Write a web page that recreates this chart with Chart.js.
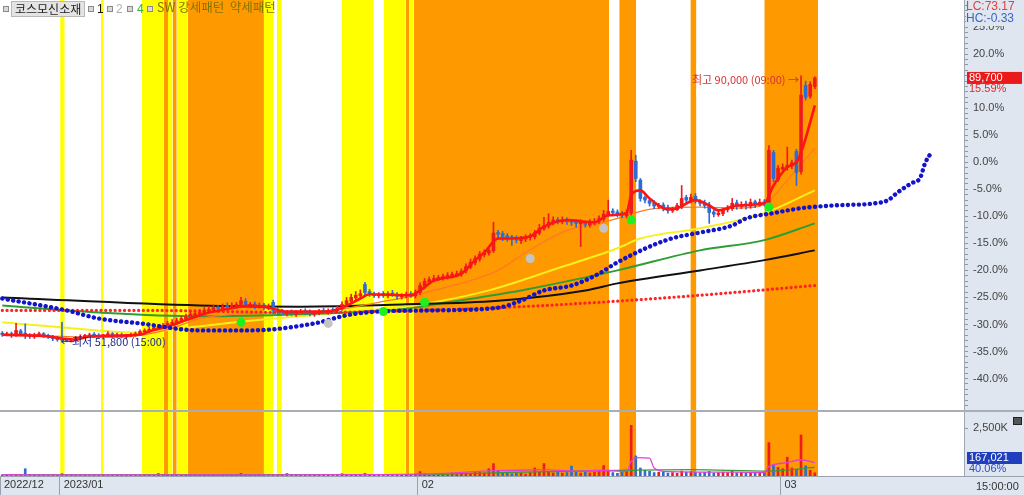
<!DOCTYPE html>
<html>
<head>
<meta charset="utf-8">
<script src="https://cdn.jsdelivr.net/npm/chart.js@4.4.1/dist/chart.umd.min.js"></script>
<style>
  html, body { margin: 0; padding: 0; background: #dfe6f0; }
  #wrap { position: relative; width: 1024px; height: 495px; overflow: hidden; }
  #c { position: absolute; left: 0; top: 0; }
  .ov { position: absolute; white-space: nowrap; font: 11px "Liberation Sans", Arial, sans-serif; line-height: 12px; }
  .kr { font-family: "Noto Sans CJK KR", "Noto Sans", sans-serif; }
  .sq { position: absolute; width: 4px; height: 4px; background: #d8d8d8; border: 1px solid #8a8a8a; top: 6px; }
</style>
</head>
<body>
<div id="wrap">
  <canvas id="c" width="1024" height="495"></canvas>
  <div class="sq" style="left:3px"></div>
  <div class="ov kr" style="left:11px;top:1px;padding:1px 3px;background:#e4e4e4;border:1px solid #b8b8b8;color:#222;font-size:12px">코스모신소재</div>
  <div class="sq" style="left:88px"></div>
  <div class="ov" style="left:97px;top:3px;color:#111;font-size:12px">1</div>
  <div class="sq" style="left:107px"></div>
  <div class="ov" style="left:116px;top:3px;color:#b0b0b0;font-size:12px">2</div>
  <div class="sq" style="left:127px"></div>
  <div class="ov" style="left:137px;top:3px;color:#2fb84a;font-size:12px">4</div>
  <div class="sq" style="left:147px"></div>
  <div class="ov kr" style="left:157px;top:1px;color:#857400;font-size:12.5px">SW 강세패턴&nbsp;&nbsp;약세패턴</div>
  <div class="ov" style="left:966px;top:0px;color:#e04040;font-size:12px">LC:73.17</div>
  <div class="ov" style="left:966px;top:12px;color:#3a64c8;background:#dfe6f0;padding-bottom:2px;font-size:12px">HC:-0.33</div>
  <div class="ov" style="left:976px;top:480px;color:#333">15:00:00</div>
  <div style="position:absolute;left:1013px;top:417px;width:7px;height:6px;background:#555;border:1px solid #222"></div>
</div>
<script>
// values in % against 77,600 (the right axis is a percent axis)
const basePrice = 77600;
const highTime = '09:00';
const lowTime = '15:00';

const closes = [
-31.9,-31.7,-32.0,-31.1,-31.7,-31.9,-32.2,-31.9,-31.7,-32.0,
-32.2,-32.6,-32.8,-32.8,-33.1,-33.0,-32.6,-32.2,-32.0,-31.9,
-32.0,-32.2,-31.9,-31.7,-32.0,-31.9,-32.2,-32.0,-31.9,-31.7,
-31.3,-31.1,-30.9,-30.6,-30.4,-30.2,-29.8,-29.6,-29.3,-28.9,
-28.5,-28.1,-28.0,-27.8,-27.4,-27.2,-26.9,-27.0,-26.7,-26.7,
-26.5,-26.3,-25.6,-26.5,-26.3,-26.7,-26.5,-26.9,-26.7,-27.4,
-27.6,-27.8,-27.8,-28.0,-27.8,-27.6,-27.8,-28.0,-27.8,-27.6,
-27.6,-27.4,-27.4,-27.0,-26.3,-25.6,-25.0,-24.6,-24.3,-24.1,
-24.4,-24.6,-24.4,-24.6,-24.3,-24.4,-24.8,-24.6,-24.4,-24.6,
-24.1,-22.8,-22.0,-21.7,-21.5,-21.3,-21.1,-20.9,-20.7,-20.6,
-20.2,-19.3,-18.5,-17.8,-17.0,-16.7,-16.3,-13.1,-13.3,-13.7,
-13.9,-14.1,-14.4,-14.1,-13.9,-13.7,-13.0,-12.2,-11.7,-11.1,
-10.7,-10.9,-10.7,-10.9,-11.1,-11.3,-11.1,-11.5,-11.1,-10.9,
-10.4,-9.6,-9.1,-9.3,-9.6,-9.8,-9.3,0.4,-3.0,-6.7,
-7.0,-7.6,-8.1,-8.0,-8.5,-8.9,-8.7,-8.0,-6.7,-7.0,
-6.5,-7.2,-7.6,-8.0,-9.3,-9.6,-9.4,-8.9,-8.5,-7.6,
-8.1,-7.8,-8.0,-7.4,-7.8,-7.4,-7.6,2.2,-3.0,-1.1,
-0.9,-0.6,0.0,-1.9,12.4,12.0,14.4,15.59
];
const opens = [
-31.6,-31.9,-31.7,-31.9,-31.2,-31.6,-31.9,-32.3,-31.9,-31.7,
-32.0,-32.2,-32.5,-32.7,-32.8,-33.2,-33.0,-32.6,-32.3,-32.0,
-31.8,-32.0,-32.2,-31.9,-31.7,-32.1,-31.9,-32.3,-32.0,-31.9,
-31.7,-31.4,-31.2,-30.9,-30.7,-30.5,-30.2,-29.9,-29.7,-29.3,
-29.0,-28.6,-28.3,-28.1,-27.9,-27.5,-27.3,-26.8,-27.1,-26.5,
-26.8,-26.6,-26.3,-25.7,-26.6,-26.2,-26.8,-26.4,-27.0,-25.9,
-27.4,-27.5,-28.0,-27.7,-28.1,-27.8,-27.5,-27.7,-28.1,-27.9,
-27.4,-27.7,-27.3,-27.5,-27.1,-26.4,-25.7,-25.1,-24.7,-22.6,
-23.9,-24.5,-24.7,-24.3,-24.7,-24.2,-24.5,-24.9,-24.7,-24.3,
-24.7,-24.1,-22.9,-22.2,-21.6,-21.7,-21.4,-21.2,-21.0,-20.8,
-20.7,-20.1,-19.4,-18.6,-17.9,-17.1,-16.8,-16.4,-13.0,-13.2,
-13.6,-13.8,-14.0,-14.5,-14.2,-13.8,-13.8,-13.1,-12.3,-11.8,
-11.2,-10.6,-11.0,-10.6,-10.8,-11.0,-11.4,-11.0,-11.6,-11.2,
-10.9,-10.5,-9.7,-9.0,-9.2,-9.5,-9.9,-9.4,0.2,-3.3,
-6.5,-7.1,-7.5,-8.2,-7.9,-8.4,-9.0,-8.8,-8.2,-6.5,
-7.1,-6.3,-7.3,-7.5,-7.9,-9.2,-9.7,-9.5,-8.8,-8.6,
-7.5,-8.2,-7.7,-8.1,-7.3,-7.9,-7.3,-7.7,1.8,-3.2,
-1.3,-1.0,-0.7,2.0,-1.7,14.2,12.2,14.0
];
const highs = [
-31.3,-31.4,-31.4,-29.8,-30.9,-29.9,-31.7,-31.6,-31.4,-31.5,
-31.8,-32.0,-32.2,-29.6,-32.5,-32.7,-32.3,-31.9,-31.8,-31.6,
-31.5,-31.7,-31.8,-31.3,-31.5,-31.6,-31.6,-31.8,-31.6,-31.4,
-31.0,-30.8,-30.5,-30.2,-30.0,-29.8,-29.4,-29.1,-28.8,-28.5,
-28.1,-27.6,-27.6,-27.3,-26.9,-26.7,-26.4,-26.5,-26.2,-26.0,
-26.0,-25.9,-25.0,-25.2,-25.9,-25.8,-26.0,-26.1,-26.2,-25.5,
-27.0,-27.2,-27.4,-27.3,-27.4,-27.2,-27.1,-27.3,-27.5,-27.2,
-27.0,-27.1,-26.9,-26.6,-25.8,-25.0,-24.4,-23.9,-23.6,-22.2,
-23.5,-24.0,-24.1,-23.9,-23.9,-23.7,-24.1,-24.3,-24.0,-23.9,
-23.6,-22.3,-21.5,-21.2,-20.9,-20.9,-20.7,-20.4,-20.3,-20.1,
-19.7,-18.8,-17.9,-17.3,-16.5,-16.2,-15.6,-11.1,-12.6,-12.8,
-13.2,-13.5,-13.6,-13.7,-13.4,-13.2,-12.6,-11.5,-10.2,-9.5,
-10.1,-10.2,-10.1,-10.3,-10.6,-10.7,-10.6,-10.9,-10.6,-10.4,
-9.9,-8.9,-7.0,-8.6,-8.8,-9.1,-8.8,2.2,1.3,-3.0,
-6.2,-6.8,-7.1,-7.6,-7.5,-7.9,-8.3,-7.6,-4.3,-6.1,
-5.9,-5.8,-6.9,-7.0,-7.4,-8.8,-9.0,-8.5,-8.0,-6.7,
-7.0,-7.3,-7.2,-6.8,-7.0,-6.8,-6.9,3.1,2.2,-0.6,
-0.3,2.8,0.4,2.4,16.0,15.0,14.9,15.8
];
const lows = [
-32.2,-32.1,-32.4,-32.2,-32.0,-32.6,-32.6,-32.6,-32.2,-32.4,
-32.6,-33.0,-33.1,-33.25,-33.2,-33.22,-33.2,-32.8,-32.5,-32.3,
-32.4,-32.6,-32.5,-32.2,-32.4,-32.4,-32.5,-32.6,-32.3,-32.2,
-31.9,-31.6,-31.4,-31.1,-30.9,-30.7,-30.5,-30.2,-30.0,-29.6,
-29.3,-28.9,-28.6,-28.4,-28.2,-27.8,-27.6,-27.4,-27.4,-27.1,
-27.1,-27.0,-26.7,-26.9,-26.9,-27.1,-27.0,-27.3,-27.3,-28.0,
-28.0,-28.2,-28.4,-28.3,-28.5,-28.1,-28.2,-28.4,-28.5,-28.2,
-28.0,-28.1,-27.7,-27.8,-27.4,-26.7,-26.0,-25.5,-25.0,-24.5,
-24.8,-25.0,-25.1,-25.0,-25.1,-24.8,-25.3,-25.3,-25.1,-25.0,
-25.1,-24.5,-23.3,-22.6,-22.1,-21.9,-21.8,-21.6,-21.4,-21.2,
-21.1,-20.5,-19.7,-19.0,-18.3,-17.5,-17.2,-16.7,-14.0,-14.5,
-14.6,-15.4,-14.9,-15.0,-14.7,-14.4,-14.2,-13.4,-12.6,-12.2,
-11.6,-11.4,-11.4,-11.5,-11.7,-12.0,-15.6,-12.0,-12.0,-11.6,
-11.3,-10.9,-10.0,-9.7,-10.1,-10.3,-10.3,-9.8,-3.6,-7.2,
-7.5,-8.1,-8.6,-8.6,-9.0,-9.4,-9.3,-8.9,-8.6,-7.6,
-7.5,-7.6,-8.1,-8.5,-11.3,-10.1,-10.0,-9.9,-9.2,-8.9,
-8.7,-8.6,-8.7,-8.5,-8.4,-8.1,-8.1,-8.1,-3.6,-3.6,
-1.5,-1.5,-1.2,-4.3,-2.2,11.5,11.8,13.6
];
// volume in thousands of shares
const volumes = [
60,40,50,80,50,380,70,40,50,60,40,50,60,
120,60,50,40,50,40,30,40,50,40,30,40,50,40,30,40,50,
40,60,50,40,130,60,70,50,60,50,
50,40,60,40,50,40,60,50,80,50,
60,50,140,50,60,40,50,60,40,50,
40,50,130,40,50,40,60,50,40,50,
60,50,40,60,120,80,60,50,90,140,
70,60,50,60,50,40,60,50,40,60,
100,230,120,90,80,70,100,80,150,90,
120,150,110,240,200,160,380,650,300,180,
140,120,160,150,100,180,420,200,650,250,
160,200,150,180,520,240,150,220,160,200,
300,550,260,180,140,250,300,2650,1050,420,
300,250,180,200,220,150,180,140,260,200,
230,180,160,190,240,150,170,200,180,250,
160,190,150,170,140,160,210,1750,600,450,
380,980,420,350,2150,530,300,167.021
];
const volumeRatio = '40.06%';

// moving averages, read at bar positions [bar, %]
const ma5 = [[0,-31.9],[10,-32.2],[13,-32.6],[16,-32.8],[19,-32.2],[30,-31.9],[32,-31.3],[36,-30.4],[41,-28.9],[45,-27.8],[50,-27.0],[54,-26.5],[58,-26.9],[62,-27.6],[71,-27.6],[74,-26.9],[78,-25.2],[80,-24.4],[89,-24.6],[91,-23.7],[94,-21.9],[100,-20.6],[103,-18.1],[105,-16.7],[108,-14.1],[111,-14.1],[115,-13.7],[118,-11.9],[123,-10.7],[129,-11.1],[132,-9.8],[136,-9.4],[137,-6.1],[139,-5.2],[141,-6.7],[145,-8.7],[147,-8.5],[151,-7.0],[154,-8.0],[156,-8.9],[160,-8.0],[166,-7.6],[168,-4.3],[171,-0.9],[173,0.0],[174,1.8],[175,4.4],[176,7.4],[177,10.5]];
const ma20 = [[0,-31.9],[13,-32.2],[21,-32.4],[30,-32.0],[37,-30.7],[43,-28.9],[52,-28.0],[60,-27.8],[69,-27.6],[75,-27.0],[82,-25.9],[89,-24.8],[94,-23.7],[102,-21.9],[108,-20.0],[114,-16.7],[123,-12.6],[130,-11.3],[134,-10.4],[139,-9.1],[143,-8.5],[152,-8.3],[160,-8.5],[166,-7.8],[171,-3.3],[177,2.6]];
const ma60 = [[0,-29.6],[15,-30.7],[30,-31.5],[39,-30.7],[54,-29.3],[71,-28.0],[91,-26.3],[106,-23.7],[121,-19.6],[134,-15.9],[139,-14.1],[152,-12.2],[166,-9.4],[177,-5.2]];
const ma120 = [[0,-26.5],[21,-27.8],[43,-28.5],[65,-28.1],[87,-27.2],[97,-25.9],[113,-23.7],[134,-20.0],[152,-16.3],[166,-14.4],[177,-11.3]];
const ma240 = [[0,-25.0],[43,-26.5],[65,-26.7],[87,-26.3],[108,-25.6],[127,-23.7],[134,-22.4],[152,-20.0],[166,-18.1],[177,-16.3]];
const redDots = [[0,-27.4],[32,-27.4],[65,-27.8],[91,-27.4],[108,-26.9],[130,-25.9],[152,-24.6],[177,-22.8]];
const blueDots = [[0,-25.2],[14,-27.4],[21,-28.9],[30,-29.8],[43,-31.1],[54,-31.1],[68,-29.8],[75,-28.3],[82,-27.6],[94,-27.4],[108,-26.9],[113,-25.6],[118,-23.7],[124,-22.8],[130,-20.6],[134,-18.5],[145,-14.3],[152,-13.0],[159,-11.7],[162,-10.4],[168,-9.4],[174,-8.5],[181,-8.0],[190,-7.6],[193,-7.0],[195,-5.6],[198,-3.9],[200,-2.8],[201,-0.2],[202,1.3]];
const volMa5 = [[0,70],[20,55],[50,60],[80,70],[95,120],[107,280],[112,300],[118,330],[125,260],[131,300],[136,240],[137,760],[138,960],[141,930],[142,420],[145,230],[160,200],[166,180],[167,490],[171,700],[174,850],[177,700]];
const volMa20 = [[0,60],[90,75],[110,190],[137,300],[150,330],[167,260],[177,450]];

const buySignals = [[52,-29.6],[83,-27.6],[92,-25.9],[137,-10.7],[167,-8.3]];
const graySignals = [[71,-29.8],[115,-17.8],[131,-12.2]];

// pattern bands [from, to] in bar units
const yellowBands = [[12.6,13.6],[21.5,22.1],[30.4,35.2],[36.1,37.1],[38.0,40.4],[57.0,59.1],[59.8,60.9],[73.9,80.9],[83.1,87.9],[88.7,89.6]];
const orangeBands = [[35.2,36.1],[37.1,38.0],[40.4,57.0],[87.9,88.7],[89.6,132.2],[134.4,138.1],[149.9,151.2],[166.0,177.7]];

const dateTicks = [-0.5, 12.5, 90.5, 169.5];
const dateLabels = ['2022/12', '2023/01', '02', '03'];

const PMIN = -46, PMAX = 30, VMAX = 3400;
const UP = '#f01c1c', DOWN = '#2f6bd0';

function pts(k) { return k.map(p => ({x: p[0], y: p[1]})); }
function won(p) { return (Math.round(basePrice * (1 + p / 100) / 100) * 100).toLocaleString('en-US'); }

const dirColor = closes.map((c, i) => c >= opens[i] ? UP : DOWN);

function bandSets(list, color) {
  const out = [];
  list.forEach(b => {
    out.push({type: 'line', yAxisID: 'y', data: [{x: b[0], y: PMAX}, {x: b[1], y: PMAX}],
      fill: 'start', backgroundColor: color, borderColor: 'rgba(0,0,0,0)', borderWidth: 0, pointRadius: 0, order: 30});
    out.push({type: 'line', yAxisID: 'y2', data: [{x: b[0], y: VMAX}, {x: b[1], y: VMAX}],
      fill: 'start', backgroundColor: color, borderColor: 'rgba(0,0,0,0)', borderWidth: 0, pointRadius: 0, order: 30});
  });
  return out;
}

function maLine(k, color, width, axis, order) {
  return {type: 'line', yAxisID: axis || 'y', data: pts(k), borderColor: color, borderWidth: width,
    pointRadius: 0, fill: false, cubicInterpolationMode: 'monotone', order: order || 10};
}

function dotLine(k, color, size, gap, order) {
  return {type: 'line', yAxisID: 'y', data: pts(k), borderColor: color, borderWidth: size,
    borderDash: [0.1, gap], borderCapStyle: 'round', pointRadius: 0, fill: false,
    cubicInterpolationMode: 'monotone', order: order};
}

const datasets = [].concat(
  bandSets(yellowBands, '#ffff00'),
  bandSets(orangeBands, '#ff9900'),
  [
    maLine(ma240, '#111111', 2, 'y', 12),
    maLine(ma120, '#2e9e34', 2, 'y', 12),
    maLine(ma60, '#f7f01a', 2, 'y', 12),
    maLine(ma20, '#ff7a26', 1.3, 'y', 11),
    dotLine(redDots, '#ff2424', 3.2, 4.6, 9),
    {type: 'bar', yAxisID: 'y', grouped: false, barThickness: 1, order: 8,
      data: closes.map((c, i) => ({x: i, y: [lows[i], highs[i]]})), backgroundColor: dirColor},
    {type: 'bar', yAxisID: 'y', grouped: false, barThickness: 3, minBarLength: 1, order: 7,
      data: closes.map((c, i) => ({x: i, y: [opens[i], c]})), backgroundColor: dirColor},
    maLine(ma5, '#ff1414', 2.6, 'y', 6),
    dotLine(blueDots, '#1414c8', 4.4, 5.4, 4),
    {type: 'bar', yAxisID: 'y2', grouped: false, barThickness: 2, order: 8,
      data: volumes.map((v, i) => ({x: i, y: v})), backgroundColor: dirColor},
    maLine(volMa20, '#3a9a3a', 1.3, 'y2', 6),
    maLine(volMa5, '#e040d8', 1.3, 'y2', 5),
    {type: 'line', yAxisID: 'y', showLine: false, data: pts(buySignals), pointRadius: 4.5,
      pointBackgroundColor: '#1ef01e', pointBorderWidth: 0, order: 1},
    {type: 'line', yAxisID: 'y', showLine: false, data: pts(graySignals), pointRadius: 4.5,
      pointBackgroundColor: '#c4c4c4', pointBorderWidth: 0, order: 1}
  ]
);

const panels = {
  id: 'panels',
  beforeDraw(chart) {
    const {ctx, chartArea: a} = chart;
    ctx.save();
    ctx.fillStyle = '#dfe6f0';
    ctx.fillRect(0, 0, chart.width, chart.height);
    ctx.fillStyle = '#ffffff';
    ctx.fillRect(a.left, a.top, a.right - a.left, a.bottom - a.top);
    ctx.restore();
  },
  afterDraw(chart) {
    const {ctx, chartArea: a, scales} = chart;
    const x = scales.x, y = scales.y, y2 = scales.y2;
    ctx.save();
    ctx.strokeStyle = '#a9adb4';
    ctx.lineWidth = 2;
    ctx.beginPath();
    ctx.moveTo(0, y2.top); ctx.lineTo(chart.width, y2.top);
    ctx.stroke();
    ctx.lineWidth = 1;
    ctx.strokeStyle = '#9aa2ae';
    ctx.beginPath();
    ctx.moveTo(0, a.bottom + 0.5); ctx.lineTo(chart.width, a.bottom + 0.5);
    ctx.stroke();

    // last price box
    const last = closes.length - 1;
    const py = y.getPixelForValue(closes[last]);
    ctx.font = '11px "Liberation Sans", Arial, sans-serif';
    ctx.textBaseline = 'middle';
    ctx.textAlign = 'left';
    ctx.fillStyle = '#ea1a1a';
    ctx.fillRect(a.right + 3, py - 6, 55, 12);
    ctx.fillStyle = '#ffffff';
    ctx.fillText(won(closes[last]), a.right + 5, py);
    ctx.fillStyle = '#e02828';
    ctx.fillText(closes[last].toFixed(2) + '%', a.right + 5, py + 11);

    // last volume box
    const vy = y2.bottom - 18;
    ctx.fillStyle = '#1f3fbf';
    ctx.fillRect(a.right + 3, vy - 6, 55, 12);
    ctx.fillStyle = '#ffffff';
    ctx.fillText(Math.round(volumes[last] * 1000).toLocaleString('en-US'), a.right + 5, vy);
    ctx.fillStyle = '#2a4ad0';
    ctx.fillText(volumeRatio, a.right + 5, vy + 11);

    // highest / lowest marks
    let iHi = 0, iLo = 0;
    highs.forEach((h, i) => { if (h > highs[iHi]) iHi = i; });
    lows.forEach((l, i) => { if (l < lows[iLo]) iLo = i; });
    ctx.font = '11px "Noto Sans CJK KR", "Liberation Sans", sans-serif';
    ctx.textAlign = 'right';
    ctx.fillStyle = '#d83030';
    ctx.fillText('최고 ' + won(highs[iHi]) + ' (' + highTime + ') →', x.getPixelForValue(iHi) - 2, y.getPixelForValue(highs[iHi]) + 4);
    ctx.textAlign = 'left';
    ctx.fillStyle = '#1a2a8c';
    ctx.fillText('←최저 ' + won(lows[iLo]) + ' (' + lowTime + ')', x.getPixelForValue(iLo) - 1, y.getPixelForValue(lows[iLo]));
    ctx.restore();
  }
};

function noPadV(s) { s.paddingTop = 0; s.paddingBottom = 0; }

new Chart(document.getElementById('c'), {
  type: 'bar',
  data: {datasets: datasets},
  plugins: [panels],
  options: {
    responsive: false,
    animation: false,
    devicePixelRatio: 1,
    layout: {padding: 0, autoPadding: false},
    font: {family: '"Liberation Sans", Arial, sans-serif', size: 11},
    plugins: {legend: {display: false}, tooltip: {enabled: false}},
    scales: {
      x: {
        type: 'linear', min: -0.5, max: 209.5, offset: false,
        grid: {drawOnChartArea: false, offset: false, tickLength: 19, tickColor: '#9aa2ae'},
        border: {display: true, color: '#9aa2ae'},
        afterBuildTicks: s => { s.ticks = dateTicks.map(v => ({value: v})); },
        afterFit: s => { s.height = 19; s.paddingLeft = 0; s.paddingRight = 0; },
        ticks: {
          autoSkip: false, maxRotation: 0, align: 'start', labelOffset: 4, padding: -17,
          color: '#333', font: {size: 11},
          callback: (v, i) => dateLabels[i]
        }
      },
      y: {
        type: 'linear', position: 'right', stack: 'panes', stackWeight: 411,
        min: PMIN, max: PMAX,
        grid: {drawOnChartArea: false, tickLength: 4, tickColor: '#8c96a6'},
        border: {display: true, color: '#a0a8b4'},
        afterBuildTicks: s => {
          const t = [];
          for (let v = PMIN + 1; v < PMAX; v++) t.push({value: v});
          s.ticks = t;
        },
        afterFit: s => { s.width = 60; noPadV(s); },
        ticks: {
          autoSkip: false, padding: 5, color: '#444', font: {size: 11},
          callback: v => (v % 5 === 0 && v >= -40 && v <= 25) ? v.toFixed(1) + '%' : ''
        }
      },
      y2: {
        type: 'linear', position: 'right', stack: 'panes', stackWeight: 65,
        min: 0, max: VMAX,
        grid: {drawOnChartArea: false, tickLength: 4, tickColor: '#8c96a6'},
        border: {display: true, color: '#a0a8b4'},
        afterBuildTicks: s => { s.ticks = [{value: 2500}]; },
        afterFit: s => { s.width = 60; noPadV(s); },
        ticks: {
          autoSkip: false, padding: 5, color: '#444', font: {size: 11},
          callback: v => v.toLocaleString('en-US') + 'K'
        }
      }
    }
  }
});
</script>
</body>
</html>
